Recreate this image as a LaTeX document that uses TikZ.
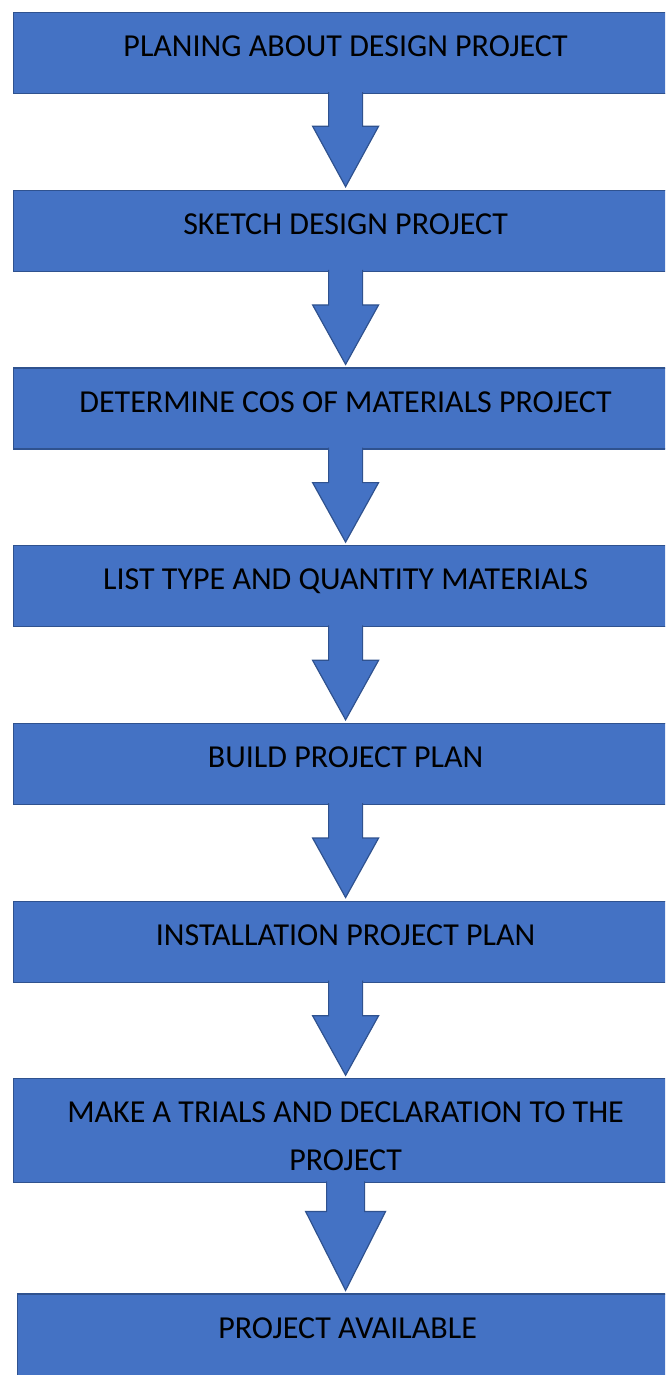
\documentclass[tikz,border=0pt]{standalone}
\usepackage{fontspec}
\setmainfont{Carlito}
\usetikzlibrary{positioning,calc}

\definecolor{boxblue}{HTML}{4472C4}
\definecolor{edgeblue}{HTML}{2F528F}

% block arrow: shaft half width #3, head half width #4, shaft length #5
\newcommand{\flowarrow}[5]{%
  \path[blockarrow] let \p1=(#1.south), \p2=(#2.north) in
    (\x1-#3,\y1+2pt) -- (\x1-#3,\y1-#5) -- (\x1-#4,\y1-#5) -- (\x1,\y2+3pt)
    -- (\x1+#4,\y1-#5) -- (\x1+#3,\y1-#5) -- (\x1+#3,\y1+2pt);}

\begin{document}
\begin{tikzpicture}[x=1pt,y=-1pt,
      node distance=95.5pt,
      stage/.style={draw=edgeblue,line width=1.2pt,fill=boxblue,minimum width=664pt,
        inner xsep=0pt,inner ysep=0pt,text height=44pt,text depth=37pt,align=center,
        font=\fontsize{32}{48}\selectfont},
      blockarrow/.style={draw=edgeblue,line width=1.2pt,fill=boxblue,line join=miter}]
    \useasboundingbox (0,0) rectangle (665,1375);
    \clip (0,0) rectangle (665,1375);
    \node[stage,anchor=north west] (planing) at (13,12) {PLANING ABOUT DESIGN PROJECT};
    \node[stage,below=of planing] (sketch) {SKETCH DESIGN PROJECT};
    \node[stage,below=of sketch] (cost) {DETERMINE COS OF MATERIALS PROJECT};
    \node[stage,below=of cost] (materials) {LIST TYPE AND QUANTITY MATERIALS};
    \node[stage,below=of materials] (build) {BUILD PROJECT PLAN};
    \node[stage,below=of build] (install) {INSTALLATION PROJECT PLAN};
    % two lines: baseline sits on the last one
    \node[stage,below=of install,text height=92pt,text depth=12pt] (trials) {MAKE A TRIALS AND DECLARATION TO THE\\PROJECT};
    \node[stage,below=110pt of trials,xshift=2pt,minimum width=660pt,text depth=60pt] (available) {PROJECT AVAILABLE};
    \flowarrow{planing}{sketch}{17pt}{33pt}{32pt}
    \flowarrow{sketch}{cost}{17pt}{33pt}{33pt}
    \flowarrow{cost}{materials}{17pt}{33pt}{33pt}
    \flowarrow{materials}{build}{17pt}{33pt}{33pt}
    \flowarrow{build}{install}{17pt}{33pt}{33pt}
    \flowarrow{install}{trials}{17pt}{33pt}{33pt}
    \flowarrow{trials}{available}{19pt}{40pt}{28pt}
  \end{tikzpicture}
\end{document}
